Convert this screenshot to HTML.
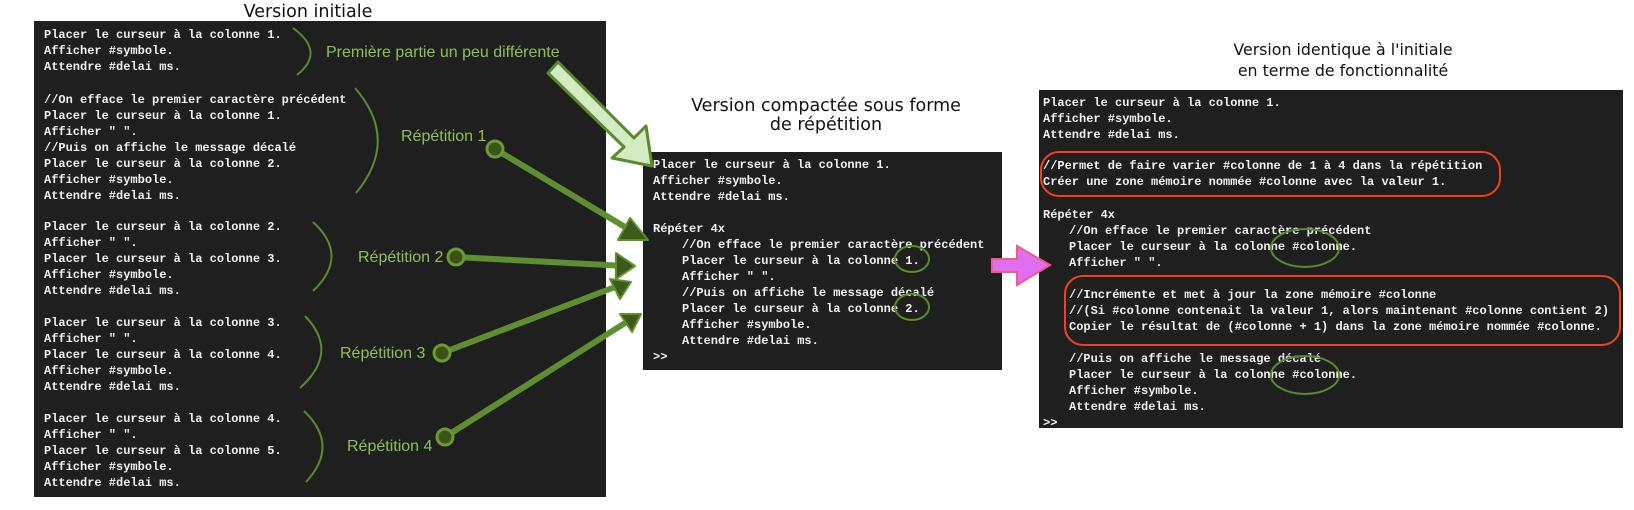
<!DOCTYPE html>
<html><head><meta charset="utf-8"><style>
html,body{margin:0;padding:0;background:#fff;}
svg{display:block;}
.m{font-family:"Liberation Mono",monospace;font-size:12px;font-weight:bold;fill:#f2f2f2;}
.t{font-family:"DejaVu Sans","Liberation Sans",sans-serif;font-size:17.5px;fill:#111;text-anchor:middle;}
.g{font-family:"Liberation Sans",sans-serif;font-size:16px;fill:#8cc152;}
</style></head><body>
<svg width="1634" height="510" viewBox="0 0 1634 510" xmlns="http://www.w3.org/2000/svg" xml:space="preserve">
<rect x="34" y="21" width="572" height="476" fill="#1f1f1f"/>
<rect x="643" y="152" width="359" height="218" fill="#1f1f1f"/>
<rect x="1039" y="90" width="584" height="338" fill="#1f1f1f"/>

<text class="t" x="308" y="17">Version initiale</text>
<text class="t" x="826" y="111">Version compactée sous forme</text>
<text class="t" x="826" y="130">de répétition</text>
<text class="t" x="1343" y="55" style="font-size:15.8px">Version identique à l'initiale</text>
<text class="t" x="1343" y="76" style="font-size:15.8px">en terme de fonctionnalité</text>

<g class="m">
<text x="44" y="38">Placer le curseur à la colonne 1.</text>
<text x="44" y="54">Afficher #symbole.</text>
<text x="44" y="70">Attendre #delai ms.</text>
<text x="44" y="103">//On efface le premier caractère précédent</text>
<text x="44" y="119">Placer le curseur à la colonne 1.</text>
<text x="44" y="135">Afficher " ".</text>
<text x="44" y="151">//Puis on affiche le message décalé</text>
<text x="44" y="167">Placer le curseur à la colonne 2.</text>
<text x="44" y="183">Afficher #symbole.</text>
<text x="44" y="199">Attendre #delai ms.</text>
<text x="44" y="230">Placer le curseur à la colonne 2.</text>
<text x="44" y="246">Afficher " ".</text>
<text x="44" y="262">Placer le curseur à la colonne 3.</text>
<text x="44" y="278">Afficher #symbole.</text>
<text x="44" y="294">Attendre #delai ms.</text>
<text x="44" y="326">Placer le curseur à la colonne 3.</text>
<text x="44" y="342">Afficher " ".</text>
<text x="44" y="358">Placer le curseur à la colonne 4.</text>
<text x="44" y="374">Afficher #symbole.</text>
<text x="44" y="390">Attendre #delai ms.</text>
<text x="44" y="422">Placer le curseur à la colonne 4.</text>
<text x="44" y="438">Afficher " ".</text>
<text x="44" y="454">Placer le curseur à la colonne 5.</text>
<text x="44" y="470">Afficher #symbole.</text>
<text x="44" y="486">Attendre #delai ms.</text>

<text x="653" y="168">Placer le curseur à la colonne 1.</text>
<text x="653" y="184">Afficher #symbole.</text>
<text x="653" y="200">Attendre #delai ms.</text>
<text x="653" y="232">Répéter 4x</text>
<text x="682" y="248">//On efface le premier caractère précédent</text>
<text x="682" y="264">Placer le curseur à la colonne 1.</text>
<text x="682" y="280">Afficher " ".</text>
<text x="682" y="296">//Puis on affiche le message décalé</text>
<text x="682" y="312">Placer le curseur à la colonne 2.</text>
<text x="682" y="328">Afficher #symbole.</text>
<text x="682" y="344">Attendre #delai ms.</text>
<text x="653" y="360">&gt;&gt;</text>

<text x="1043" y="106">Placer le curseur à la colonne 1.</text>
<text x="1043" y="122">Afficher #symbole.</text>
<text x="1043" y="138">Attendre #delai ms.</text>
<text x="1043" y="169">//Permet de faire varier #colonne de 1 à 4 dans la répétition</text>
<text x="1043" y="185">Créer une zone mémoire nommée #colonne avec la valeur 1.</text>
<text x="1043" y="218">Répéter 4x</text>
<text x="1069" y="234">//On efface le premier caractère précédent</text>
<text x="1069" y="250">Placer le curseur à la colonne #colonne.</text>
<text x="1069" y="266">Afficher " ".</text>
<text x="1069" y="298">//Incrémente et met à jour la zone mémoire #colonne</text>
<text x="1069" y="314">//(Si #colonne contenait la valeur 1, alors maintenant #colonne contient 2)</text>
<text x="1069" y="330">Copier le résultat de (#colonne + 1) dans la zone mémoire nommée #colonne.</text>
<text x="1069" y="362">//Puis on affiche le message décalé</text>
<text x="1069" y="378">Placer le curseur à la colonne #colonne.</text>
<text x="1069" y="394">Afficher #symbole.</text>
<text x="1069" y="410">Attendre #delai ms.</text>
<text x="1043" y="426">&gt;&gt;</text>
</g>

<g fill="none" stroke="#5a8a2e" stroke-width="2">
<path d="M293 28 Q326 52 297 75"/>
<path d="M355 88 Q400 140 356 193"/>
<path d="M313 222 Q350 256 313 291"/>
<path d="M305 316 Q340 352 300 388"/>
<path d="M304 411 Q340 445 306 482"/>
</g>

<g class="g">
<text x="326" y="57">Première partie un peu différente</text>
<text x="401" y="141">Répétition 1</text>
<text x="358" y="262">Répétition 2</text>
<text x="340" y="358">Répétition 3</text>
<text x="347" y="451">Répétition 4</text>
</g>

<polygon points="548,73 558,62 634,138 646,126 652,166 612,158 624,147" fill="#d3eac3" stroke="#5a8a2e" stroke-width="3" stroke-linejoin="round"/>

<g stroke="#5e8f2f" stroke-width="6" stroke-linecap="round">
<line x1="495" y1="149" x2="630" y2="230"/>
<line x1="456" y1="257" x2="625" y2="266"/>
<line x1="442" y1="353" x2="615" y2="287"/>
<line x1="445" y1="437" x2="625" y2="323"/>
</g>
<g fill="#3d5a1a" stroke="#5e8f2f" stroke-width="2" stroke-linejoin="round">
<polygon points="648,240 618,240 630,218"/>
<polygon points="635,266 616,253 616,279"/>
<polygon points="631,282 610,279 620,299"/>
<polygon points="641,314 620,314 632,332"/>
</g>
<g fill="#3d5216" stroke="#6a9a34" stroke-width="3">
<circle cx="495" cy="149" r="8"/>
<circle cx="456" cy="257" r="8"/>
<circle cx="442" cy="353" r="8"/>
<circle cx="445" cy="437" r="8"/>
</g>

<g fill="none" stroke="#5a8a2e" stroke-width="2">
<ellipse cx="912" cy="259" rx="17" ry="13"/>
<ellipse cx="912" cy="307" rx="17" ry="13"/>
<ellipse cx="1305" cy="248" rx="34" ry="19"/>
<ellipse cx="1305" cy="375" rx="34" ry="19"/>
</g>

<g fill="none" stroke="#f0431a" stroke-width="2">
<rect x="1041" y="152" width="459" height="44" rx="18"/>
<rect x="1065" y="276" width="555" height="69" rx="18"/>
</g>

<polygon points="992,259 1017,259 1017,246 1050,265 1017,285 1017,272 992,272" fill="#e06ef0" stroke="#ef5a8a" stroke-width="2" stroke-linejoin="miter"/>
</svg>
</body></html>
